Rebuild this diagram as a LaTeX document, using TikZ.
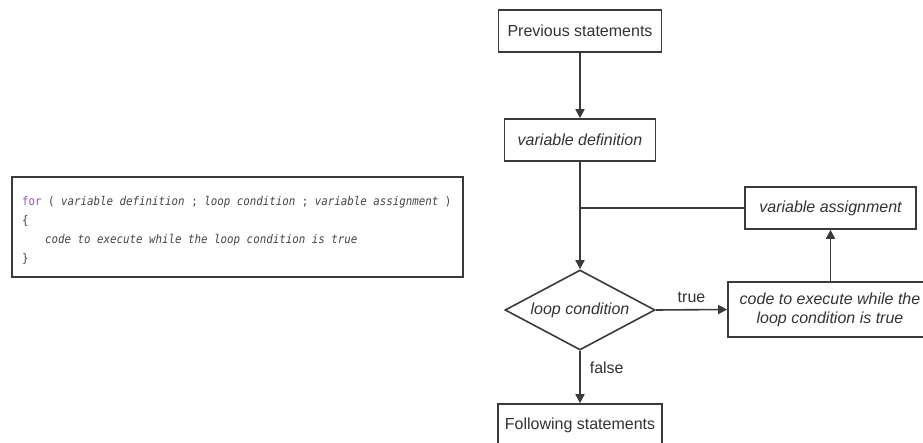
\documentclass[tikz,border=0pt]{standalone}
\usepackage{fontspec}
\setmainfont{Liberation Sans}
\newfontfamily\codefont[FakeStretch=0.9]{DejaVu Sans Mono}
\usetikzlibrary{arrows.meta,shapes.geometric}

\definecolor{ink}{HTML}{333333}
\definecolor{edge}{HTML}{3A3A3A}
\definecolor{codeink}{HTML}{454545}
\definecolor{kw}{HTML}{A24BD6}

\tikzset{
  box/.style={draw=edge, line width=1.6pt, rectangle, inner sep=0pt,
    minimum height=42pt, text=ink, font=\fontsize{16}{19}\selectfont, align=center},
  decision/.style={draw=edge, line width=1.6pt, diamond, inner sep=0pt, aspect=1.875,
    minimum width=150pt, minimum height=80pt, text=ink, font=\fontsize{16}{19}\selectfont\itshape},
  flow/.style={draw=edge, line width=1.6pt, -{Triangle[length=9pt,width=9pt]}},
  plain/.style={draw=edge, line width=1.6pt},
  lbl/.style={text=ink, font=\fontsize{16}{19}\selectfont, inner sep=0pt},
  codeline/.style={anchor=base west, inner sep=0pt, text=codeink,
    font=\codefont\fontsize{12}{14}\selectfont},
}

\begin{document}
\begin{tikzpicture}[x=1pt, y=-1pt]
  \clip (0,0) rectangle (923,443);
  \fill[white] (0,0) rectangle (923,443);

  % source listing
  \node[draw=edge, line width=1.3pt, rectangle, minimum width=451pt, minimum height=100pt, inner sep=0pt]
    (listing) at (237.5,227) {};
  \node[codeline] (l1) at (22,206) {{\color{kw}for} ( \textit{variable definition} ; \textit{loop condition} ; \textit{variable assignment} )};
  \node[codeline] (l2) at (22,225) {\{};
  \node[codeline] (l3) at (45,244) {\textit{code to execute while the loop condition is true}};
  \node[codeline] (l4) at (22,263) {\}};

  % flowchart
  \node[box, minimum width=163pt] (prev) at (580,31) {Previous statements};
  \node[box, minimum width=151pt, font=\fontsize{16}{19}\selectfont\itshape] (vdef) at (580,140) {variable definition};
  \node[box, minimum width=171pt, font=\fontsize{16}{19}\selectfont\itshape] (vassign) at (830.5,208) {variable assignment};
  \node[decision] (cond) at (580,310) {loop condition};
  \node[box, minimum width=204pt, minimum height=55pt, font=\fontsize{16}{19}\selectfont\itshape] (body) at (830,309.5)
    {code to execute while the\\loop condition is true};
  \node[box, minimum width=164pt] (next) at (580,425) {Following statements};

  \coordinate (join) at (vdef.south |- vassign.west);

  \draw[flow] (prev) -- (vdef);
  \draw[flow] (vdef) -- (cond);
  \draw[plain] (vassign.west) -- (join);
  \draw[flow] (cond.east) -- node[lbl, above=6pt] (truelbl) {true} (body.west);
  \draw[flow] (body.north -| vassign.south) -- (vassign.south);
  \draw[flow] (cond.south) -- node[lbl, right=9pt, pos=0.33] (falselbl) {false} (next.north);
\end{tikzpicture}
\end{document}
